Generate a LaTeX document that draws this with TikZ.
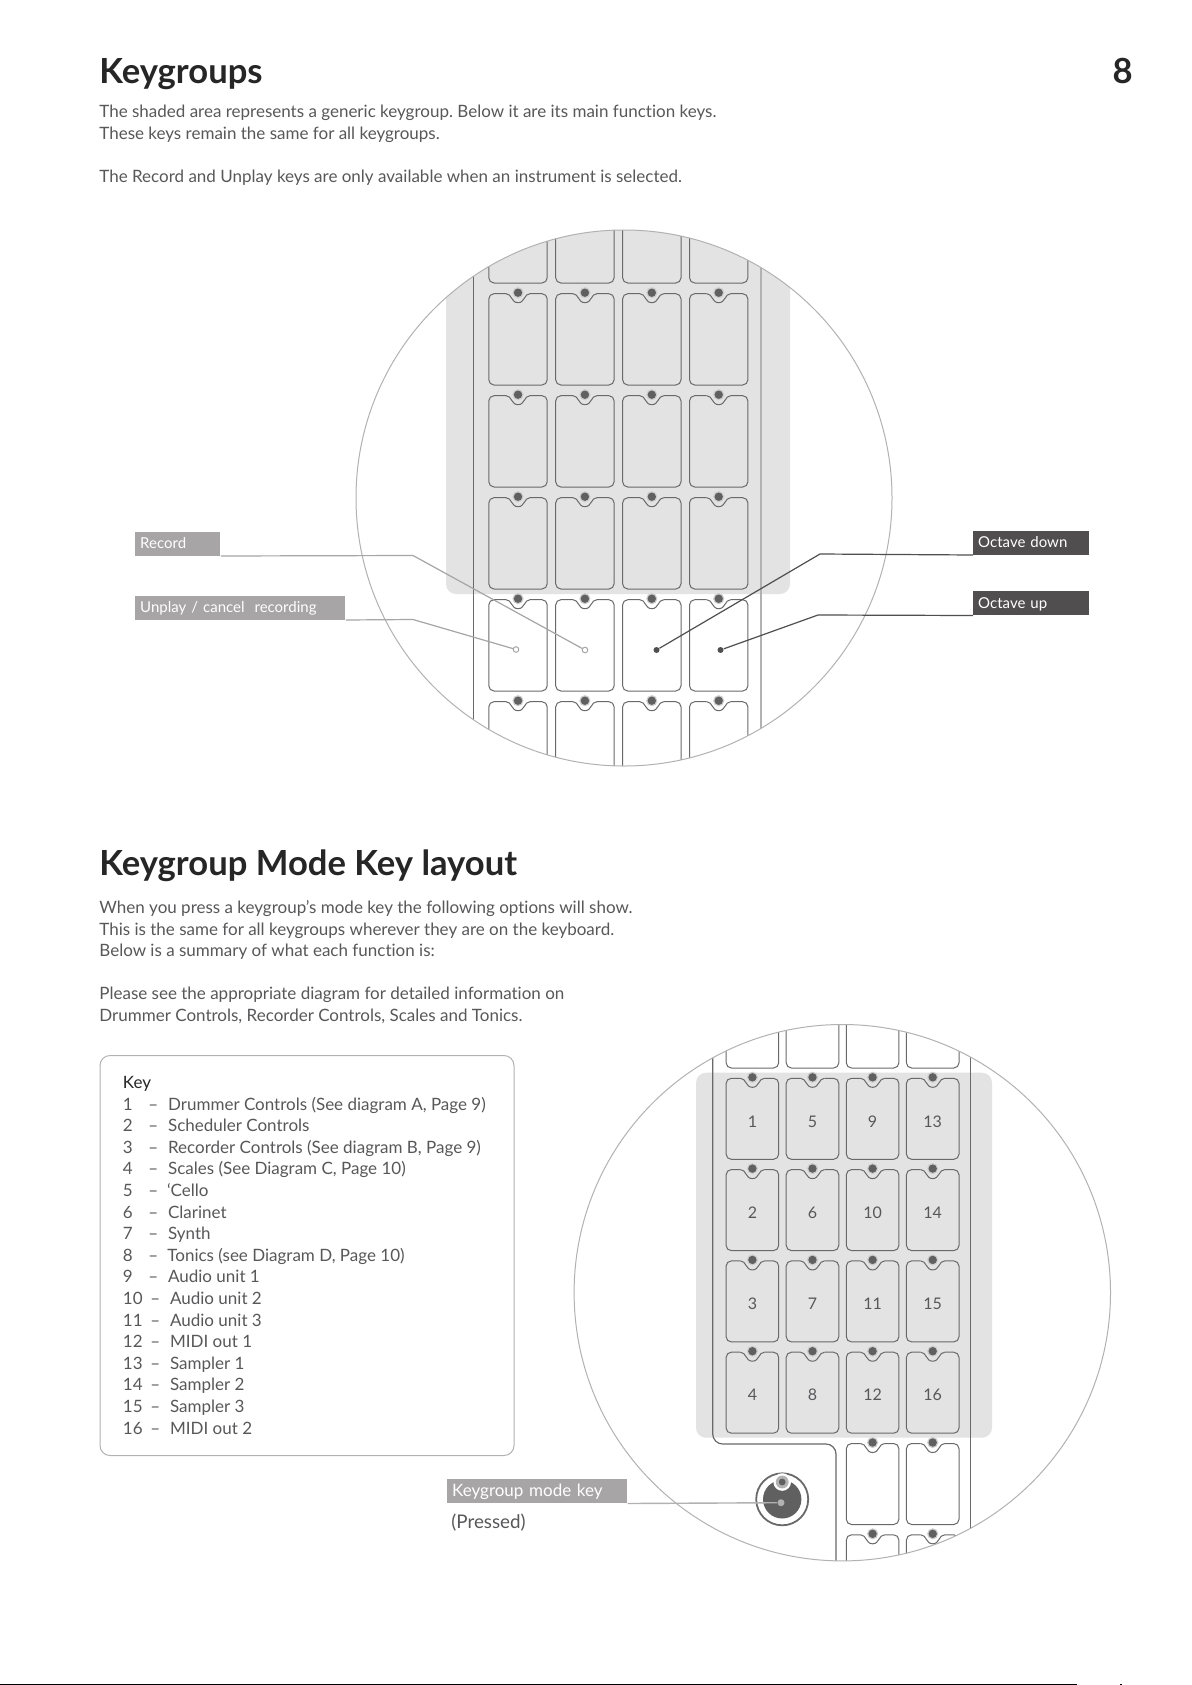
\documentclass[tikz,border=0pt]{standalone}
\usepackage{fontspec}
\setmainfont{Lato}[Ligatures=NoCommon]
\usetikzlibrary{calc}
\usetikzlibrary{positioning}
\definecolor{areagrey}{RGB}{227, 227, 227}
\definecolor{halo}{RGB}{205, 205, 205}
\definecolor{rim}{RGB}{178, 178, 178}
\definecolor{keyline}{RGB}{105, 105, 105}
\definecolor{led}{RGB}{96, 96, 96}
\definecolor{bodytext}{RGB}{88, 88, 90}
\definecolor{lightlabel}{RGB}{167, 165, 166}
\definecolor{darklabel}{RGB}{80, 78, 79}
\tikzset{
  bodyline/.style={anchor=base west, inner sep=0pt, text=bodytext, font=\fontsize{8.5}{10}\selectfont\frenchspacing},
  headline/.style={anchor=base west, inner sep=0pt, text=black!85, font=\fontsize{17.3}{18}\selectfont\bfseries},
  keynum/.style={inner sep=0pt, text=bodytext, font=\fontsize{8}{10}\selectfont},
  tag/.style={anchor=south west, inner xsep=2.4pt, inner ysep=0pt, text=white, text height=7pt, text depth=2pt, minimum height=12pt, align=left, font=\fontsize{7.5}{9}\selectfont},
  lighttag/.style={tag, fill=lightlabel},
  darktag/.style={tag, fill=darklabel},
  lightlead/.style={draw=lightlabel, line width=0.6pt},
  darklead/.style={draw=darklabel, line width=0.6pt},
  hollowend/.style={circle, draw=lightlabel, fill=white, line width=0.5pt, inner sep=0pt, minimum size=2.8pt},
  solidend/.style={circle, fill=darklabel, inner sep=0pt, minimum size=3pt},
}
\newcommand{\keycap}[4]{
  \draw[keyline, line width=0.5pt, rounded corners=2.6pt]
    ({#1+12},#2) -- ({#1+#3/2},#2) -- ({#1+#3/2},{#2+#4}) -- ({#1-#3/2},{#2+#4}) -- ({#1-#3/2},#2) -- ({#1-12},#2);
  \draw[keyline, line width=0.5pt]
    ({#1-12},#2) .. controls ({#1-6},#2) and ({#1-7},{#2+9}) .. (#1,{#2+9})
    .. controls ({#1+7},{#2+9}) and ({#1+6},#2) .. ({#1+12},#2);
  \fill[halo] (#1,{#2-1}) circle (2.8pt);
  \fill[led]  (#1,{#2-1}) circle (2.1pt);
}
\begin{document}
\begin{tikzpicture}[x=0.5pt, y=-0.5pt]
  \useasboundingbox (0,0) rectangle (1192,1685);
  \fill[white] (0,0) rectangle (1192,1685);

  \node[headline] (titlegroups) at (99, 84) {Keygroups};
  \node[headline, anchor=base east] (pagenum) at (1133, 84) {8};
  \node[bodyline] (introa) at ( 99, 118) {The shaded area represents a generic keygroup. Below it are its main function keys.};
  \node[bodyline] (introb) at ( 99, 140) {These keys remain the same for all keygroups.};
  \node[bodyline] (introc) at ( 99, 183) {The Record and Unplay keys are only available when an instrument is selected.};

  \begin{scope}
    \clip (624, 498) circle (134pt);
    \fill[areagrey, rounded corners=5pt] (446, 150) rectangle (790, 594);
    \draw[keyline, line width=0.5pt]  (473.5, 200) -- (473.5, 800);
    \draw[rim,     line width=0.8pt]  (761, 200) -- (761, 800);
    \foreach \row in {-1,...,4}
      \foreach \col in {0,...,3}
        \keycap{518+66.9*\col}{293.7+102*\row}{58.4}{91.3};
  \end{scope}
  \draw[rim, line width=0.5pt] (624, 498) circle (134pt);

  \node[lighttag, text width=37.7pt]  (tagrecord) at (135, 556) {Record};
  \node[lighttag, text width=100.2pt] (tagunplay) at (135, 620) {Unplay / cancel\ \ recording};
  \node[darktag,  text width=53pt]    (tagdown)   at (973, 555) {Octave down};
  \node[darktag,  text width=53pt]    (tagup)     at (973, 615.5) {Octave up};
  \coordinate (bendrecord) at (413, 555.5);
  \coordinate (bendunplay) at (413, 619.5);
  \coordinate (benddown)   at (820, 554);
  \coordinate (bendup)     at (818, 615);
  \node[hollowend] (endrecord) at (585, 650) {};
  \node[hollowend] (endunplay) at (516, 649.5) {};
  \node[solidend]  (enddown)   at (656.5, 650) {};
  \node[solidend]  (endup)     at (720.5, 650) {};
  \draw[lightlead] (tagrecord.south east) -- (bendrecord) -- (endrecord);
  \draw[lightlead] (tagunplay.south east) -- (bendunplay) -- (endunplay);
  \draw[darklead]  (tagdown.south west)   -- (benddown)   -- (enddown);
  \draw[darklead]  (tagup.south west)     -- (bendup)     -- (endup);

  \node[headline] (titlemode) at (99, 875) {Keygroup Mode Key layout};
  \node[bodyline] (modea) at ( 99,  913) {When you press a keygroup’s mode key the following options will show.};
  \node[bodyline] (modeb) at ( 99,  935) {This is the same for all keygroups wherever they are on the keyboard.};
  \node[bodyline] (modec) at ( 99,  956) {Below is a summary of what each function is:};
  \node[bodyline] (moded) at ( 99,  999) {Please see the appropriate diagram for detailed information on};
  \node[bodyline] (modee) at ( 99, 1021) {Drummer Controls, Recorder Controls, Scales and Tonics.};

  \draw[rim, line width=0.5pt, rounded corners=5pt] (100, 1055.5) rectangle (514, 1455.5);
  \node[bodyline, text=black!85] (keyhead) at (122.5, 1088) {Key};
  \foreach \num/\gap/\entry [count=\i] in {
      1/167.7/{Drummer Controls (See diagram A, Page 9)},
      2/167.7/{Scheduler Controls},
      3/167.7/{Recorder Controls (See diagram B, Page 9)},
      4/167.7/{Scales (See Diagram C, Page 10)},
      5/166.6/{‘Cello},
      6/167.7/{Clarinet},
      7/167.7/{Synth},
      8/167/{Tonics (see Diagram D, Page 10)},
      9/167.7/{Audio unit 1},
      10/169.7/{Audio unit 2},
      11/169.7/{Audio unit 3},
      12/169.7/{MIDI out 1},
      13/169.7/{Sampler 1},
      14/169.7/{Sampler 2},
      15/169.7/{Sampler 3},
      16/169.7/{MIDI out 2}} {
    \node[bodyline] (keynum\i) at (122.5, {1088.5+21.6*\i}) {\num};
    \node[bodyline] (keydash\i) at ({\i>9 ? 150 : 148}, {1088.5+21.6*\i}) {–};
    \node[bodyline] (keytext\i) at (\gap, {1088.5+21.6*\i}) {\entry};
  }

  \begin{scope}
    \clip (842.3, 1292.7) circle (134.1pt);
    \fill[areagrey, rounded corners=5pt] (696, 1072.7) rectangle (992, 1437.7);
    \draw[keyline, line width=0.6pt, rounded corners=5pt]
      (712.7, 1000) -- (712.7, 1444) -- (836, 1444) -- (836, 1600);
    \draw[keyline, line width=0.6pt] (970.3, 1000) -- (970.3, 1600);
    \foreach \col in {0,...,3} {
      \foreach \row in {-1,...,3}
        \keycap{752.4+60.1*\col}{1078.3+91.3*\row}{52.6}{81};
      \node[keynum] (num1\col) at ({752.4+60.1*\col}, 1122) {\number\numexpr 1+4*\col\relax};
      \node[keynum] (num2\col) at ({752.4+60.1*\col}, 1213) {\number\numexpr 2+4*\col\relax};
      \node[keynum] (num3\col) at ({752.4+60.1*\col}, 1304) {\number\numexpr 3+4*\col\relax};
      \node[keynum] (num4\col) at ({752.4+60.1*\col}, 1395) {\number\numexpr 4+4*\col\relax};
    }
    \foreach \col in {2,3}
      \foreach \row in {4,5}
        \keycap{752.4+60.1*\col}{1078.3+91.3*\row}{52.6}{81};
  \end{scope}
  \draw[rim, line width=0.5pt] (842.3, 1292.7) circle (134.1pt);

  \draw[keyline, line width=0.9pt]   (782.2, 1499.3) circle (13pt);
  \fill[led]                         (782.2, 1499.3) circle (9.6pt);
  \fill[white]                       (782.2, 1482)   circle (4.4pt);
  \fill[rim]                         (782.2, 1482)   circle (3.2pt);
  \fill[led]                         (782.2, 1482)   circle (1.7pt);

  \node[lighttag, text width=85.1pt, font=\fontsize{8.5}{10}\selectfont] (tagmode) at (447, 1503.5) {Keygroup mode key};
  \node[bodyline, font=\fontsize{9.4}{10}\selectfont] (pressed) at (451, 1528) {(Pressed)};
  \node[circle, fill=rim, inner sep=0pt, minimum size=3.5pt] (endmode) at (781, 1502.7) {};
  \draw[draw=rim, line width=0.7pt] (tagmode.south east) -- (endmode);

  \fill[black] (0, 1683.7) rectangle (1077, 1685);
  \fill[black] (1120, 1683.7) rectangle (1122, 1685);
\end{tikzpicture}
\end{document}
